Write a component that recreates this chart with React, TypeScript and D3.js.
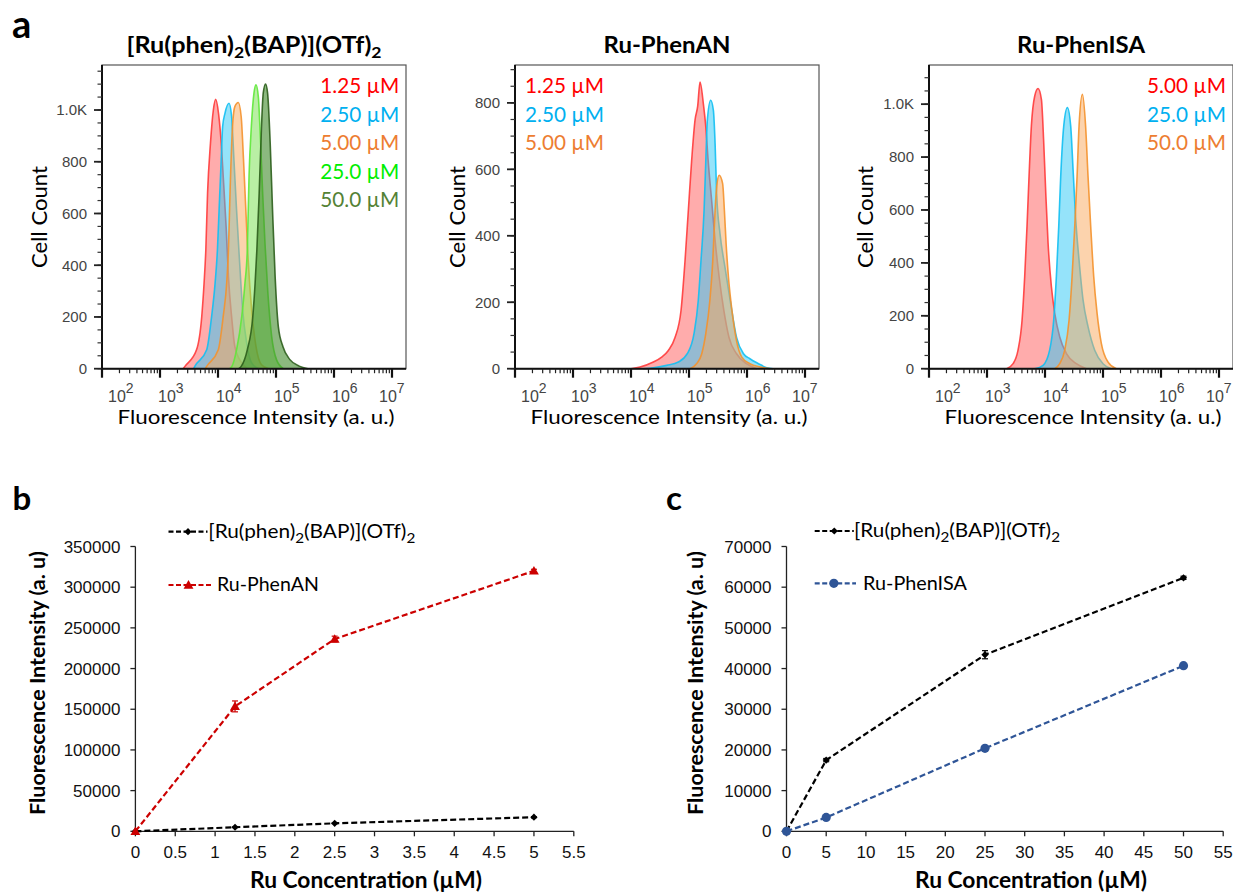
import React from "react";
import * as d3 from "d3";

const CAL = "Lato, 'Open Sans', sans-serif";
const ARI = "'Liberation Sans', Arial, sans-serif";

// ---------- panel a: flow histograms, points are [log10 intensity, cell count]
const a1Names = ["1.25 µM", "2.50 µM", "5.00 µM", "25.0 µM", "50.0 µM"];
const a2Names = ["1.25 µM", "2.50 µM", "5.00 µM"];
const a3Names = ["5.00 µM", "25.0 µM", "50.0 µM"];

const a1Red = [[3.40, 0], [3.43, 9], [3.63, 73], [3.72, 202], [3.76, 331], [3.79, 459], [3.82, 678], [3.87, 871], [3.92, 1000], [3.96, 1041], [4.01, 985], [4.06, 858], [4.09, 743], [4.14, 550], [4.18, 356], [4.24, 189], [4.29, 86], [4.41, 22], [4.50, 0]];
const a1Blue = [[3.58, 0], [3.60, 9], [3.805, 73], [3.89, 202], [3.95, 331], [3.99, 459], [4.02, 620], [4.05, 780], [4.08, 936], [4.12, 987], [4.19, 1026], [4.235, 974], [4.275, 807], [4.32, 614], [4.37, 421], [4.425, 228], [4.495, 99], [4.58, 22], [4.70, 0]];
const a1Orange = [[3.78, 0], [3.805, 9], [4.005, 73], [4.09, 202], [4.15, 331], [4.18, 459], [4.21, 700], [4.25, 936], [4.29, 1013], [4.35, 1029], [4.40, 974], [4.44, 807], [4.48, 614], [4.52, 421], [4.58, 228], [4.655, 86], [4.75, 15], [4.87, 0]];
const a1Lime = [[4.20, 0], [4.24, 9], [4.32, 73], [4.41, 202], [4.465, 331], [4.505, 459], [4.535, 743], [4.575, 936], [4.62, 1065], [4.655, 1097], [4.695, 1052], [4.735, 871], [4.77, 678], [4.81, 485], [4.86, 292], [4.925, 125], [5.01, 34], [5.125, 0]];
const a1Green = [[4.36, 0], [4.40, 9], [4.505, 73], [4.60, 202], [4.64, 331], [4.67, 459], [4.71, 678], [4.75, 936], [4.78, 1065], [4.82, 1100], [4.855, 1065], [4.90, 871], [4.94, 614], [4.985, 356], [5.04, 163], [5.12, 85], [5.24, 35], [5.40, 10], [5.55, 0]];

const a2Red = [[4.00, 0], [4.156, 5], [4.385, 20], [4.529, 35], [4.644, 55], [4.759, 94], [4.863, 176], [4.932, 326], [4.989, 477], [5.046, 627], [5.104, 748], [5.15, 790], [5.19, 863], [5.247, 798], [5.29, 727], [5.33, 627], [5.39, 507], [5.45, 386], [5.52, 276], [5.60, 176], [5.69, 94], [5.82, 45], [5.99, 15], [6.17, 0]];
const a2Blue = [[4.21, 0], [4.385, 3], [4.615, 10], [4.817, 20], [4.97, 45], [5.087, 106], [5.16, 206], [5.207, 326], [5.26, 477], [5.29, 627], [5.316, 748], [5.374, 808], [5.42, 778], [5.45, 677], [5.477, 526], [5.535, 406], [5.62, 306], [5.71, 206], [5.82, 94], [5.94, 45], [6.05, 30], [6.2, 15], [6.34, 3], [6.45, 0]];
const a2Orange = [[5.02, 0], [5.13, 15], [5.22, 45], [5.29, 106], [5.36, 206], [5.41, 326], [5.45, 477], [5.477, 547], [5.52, 582], [5.58, 557], [5.61, 477], [5.64, 376], [5.68, 276], [5.74, 176], [5.82, 84], [5.91, 35], [6.05, 15], [6.23, 5], [6.4, 0]];

const a3Red = [[3.34, 0], [3.45, 19], [3.535, 70], [3.605, 184], [3.65, 348], [3.69, 538], [3.725, 727], [3.765, 917], [3.823, 1031], [3.88, 1059], [3.938, 1018], [3.978, 854], [4.013, 664], [4.053, 474], [4.11, 310], [4.168, 209], [4.254, 120], [4.37, 57], [4.54, 19], [4.714, 0]];
const a3Blue = [[3.823, 0], [3.967, 13], [4.08, 70], [4.15, 184], [4.196, 348], [4.237, 538], [4.271, 727], [4.323, 917], [4.386, 987], [4.443, 917], [4.484, 753], [4.53, 563], [4.587, 411], [4.656, 260], [4.742, 159], [4.857, 70], [5.0, 19], [5.145, 0]];
const a3Orange = [[4.168, 0], [4.254, 19], [4.34, 70], [4.415, 184], [4.467, 348], [4.513, 538], [4.553, 727], [4.587, 917], [4.645, 1037], [4.70, 917], [4.742, 727], [4.788, 538], [4.84, 348], [4.898, 209], [4.972, 95], [5.087, 25], [5.23, 0]];

const a1Ticks = [0, 200, 400, 600, 800, 1000];
const a2Ticks = [0, 200, 400, 600, 800];
const a3Ticks = [0, 200, 400, 600, 800, 1000];
const decades = [2, 3, 4, 5, 6, 7];

// ---------- panels b and c
const bConc = [0, 1.25, 2.5, 5];
const bRuBap = [0, 5000, 9800, 17300];
const bRuBapErr = [0, 300, 400, 500];
const bPhenAN = [0, 153500, 236300, 320000];
const bPhenANErr = [0, 6700, 3500, 2000];
const bXTicks = [0, 0.5, 1, 1.5, 2, 2.5, 3, 3.5, 4, 4.5, 5, 5.5];
const bYTicks = [0, 50000, 100000, 150000, 200000, 250000, 300000, 350000];

const cConc = [0, 5, 25, 50];
const cRuBap = [0, 17500, 43400, 62300];
const cRuBapErr = [0, 400, 1000, 400];
const cPhenISA = [0, 3400, 20400, 40700];
const cPhenISAErr = [0, 200, 300, 400];
const cXTicks = [0, 5, 10, 15, 20, 25, 30, 35, 40, 45, 50, 55];
const cYTicks = [0, 10000, 20000, 30000, 40000, 50000, 60000, 70000];

const histColors = [
  { line: "#ff3b3b", fill: "#ff5a5a", op: 0.5 },
  { line: "#12bff2", fill: "#2cc8f5", op: 0.5 },
  { line: "#f4922e", fill: "#f9a85c", op: 0.5 },
  { line: "#5fe83a", fill: "#7fe25a", op: 0.55 },
  { line: "#2c5e1c", fill: "#3f8a2a", op: 0.6 },
];
const legendColors = ["#ff0000", "#00b0f0", "#ed7d31", "#00ee00", "#548235"];

const Ru = ({ sub = 14 }: any) => (
  <>
    [Ru(phen)<tspan fontSize={sub} dy={5}>2</tspan>
    <tspan dy={-5}>(BAP)](OTf)</tspan>
    <tspan fontSize={sub} dy={5}>2</tspan>
  </>
);

const HT = 65, HB = 368.7;

function Hist({ left, yMax, yTicks, curves, cols, names, legX, legAnchor, title, titleW, yLabX }: any) {
  const right = left + 304;
  const x = d3.scaleLog().domain([100, 10 ** (2 + 304 / 58)]).range([left, right]);
  const y = d3.scaleLinear().domain([0, yMax]).range([HB, HT]);
  const area = d3.area<number[]>().x(d => x(10 ** d[0])).y0(y(0)).y1(d => y(d[1])).curve(d3.curveMonotoneX);
  const line = d3.line<number[]>().x(d => x(10 ** d[0])).y(d => y(d[1])).curve(d3.curveMonotoneX);
  const minorY = d3.range(0, yMax, 50);
  const minorX: number[] = [];
  decades.forEach(e => { for (let k = 2; k <= 9; k++) { const v = k * 10 ** e; if (v <= x.domain()[1]) minorX.push(v); } });
  const cx = (left + right) / 2;
  return (
    <g>
      {curves.map((c: number[][], i: number) => (
        <g key={i}>
          <path d={area(c) || ""} fill={cols[i].fill} fillOpacity={cols[i].op} />
          <path d={line(c) || ""} fill="none" stroke={cols[i].line} strokeWidth={1.6} strokeOpacity={0.9} />
        </g>
      ))}
      <rect x={left} y={HT} width={304} height={HB - HT} fill="none" stroke="#555" strokeWidth={1.2} />
      <line x1={left} x2={left} y1={HT} y2={HB} stroke="#111" strokeWidth={2} />
      <line x1={left} x2={right} y1={HB} y2={HB} stroke="#111" strokeWidth={2} />
      {minorY.map(v => <line key={"my" + v} x1={left - 4.5} x2={left} y1={y(v)} y2={y(v)} stroke="#333" strokeWidth={1.2} />)}
      {yTicks.map((v: number) => (
        <g key={"y" + v}>
          <line x1={left - 8} x2={left} y1={y(v)} y2={y(v)} stroke="#222" strokeWidth={1.8} />
          <text x={left - 15} y={y(v) + 5.3} textAnchor="end" fontSize={15} fill="#444" fontFamily={ARI}>{v === 1000 ? "1.0K" : v}</text>
        </g>
      ))}
      {minorX.map(v => <line key={"mx" + v} x1={x(v)} x2={x(v)} y1={HB} y2={HB + 4.5} stroke="#222" strokeWidth={1.2} />)}
      {decades.map(e => {
        const t = x(10 ** e);
        const sx = Math.min(Math.max(t - 2, left + 6), right - 27);
        return (
          <g key={"d" + e}>
            <line x1={t} x2={t} y1={HB} y2={HB + 9} stroke="#111" strokeWidth={2.2} />
            <text x={sx} y={401.7} fontSize={16} fill="#444" fontFamily={ARI}>10<tspan dy={-8.4} fontSize={14}>{e}</tspan></text>
          </g>
        );
      })}
      {names.map((n: string, i: number) => (
        <text key={n} x={legX} y={93.3 + i * 28.45} textAnchor={legAnchor} fontSize={22} fill={legendColors[i]} fontFamily={CAL} textLength={79} lengthAdjust="spacingAndGlyphs">{n}</text>
      ))}
      <text x={cx} y={53} textAnchor="middle" fontSize={23} fontWeight={700} fontFamily={CAL} textLength={titleW} lengthAdjust="spacingAndGlyphs">{title}</text>
      <text x={yLabX} y={217} textAnchor="middle" fontSize={22} fontFamily={CAL} transform={`rotate(-90 ${yLabX} 217)`} textLength={102} lengthAdjust="spacingAndGlyphs">Cell Count</text>
      <text x={cx + 2} y={423.5} textAnchor="middle" fontSize={20} fontFamily={CAL} textLength={277} lengthAdjust="spacingAndGlyphs">Fluorescence Intensity (a. u.)</text>
    </g>
  );
}

const LB = 831.3, LT = 546.5;

function marker(kind: string, px: number, py: number, color: string, key: any) {
  if (kind === "circle") return <circle key={key} cx={px} cy={py} r={4.6} fill={color} />;
  if (kind === "tri") return <path key={key} d={d3.symbol(d3.symbolTriangle, 42)() || ""} transform={`translate(${px},${py + 0.8})`} fill={color} />;
  return <path key={key} d={d3.symbol(d3.symbolSquare, 26)() || ""} transform={`translate(${px},${py}) rotate(45)`} fill={color} />;
}

function LinePanel({ x0, x1, xMax, xTicks, yMax, yTicks, series, yLabX, xTitleX, legend }: any) {
  const x = d3.scaleLinear().domain([0, xMax]).range([x0, x1]);
  const y = d3.scaleLinear().domain([0, yMax]).range([LB, LT]);
  const line = d3.line<number[]>().x(d => x(d[0])).y(d => y(d[1]));
  return (
    <g>
      <line x1={x0} x2={x0} y1={LT} y2={LB} stroke="#222" strokeWidth={1.3} />
      <line x1={x0} x2={x1} y1={LB} y2={LB} stroke="#222" strokeWidth={1.3} />
      {yTicks.map((v: number) => (
        <g key={"y" + v}>
          <line x1={x0 - 5} x2={x0} y1={y(v)} y2={y(v)} stroke="#222" strokeWidth={1.3} />
          <text x={x0 - 15} y={y(v) + 6} textAnchor="end" fontSize={17} fill="#111" fontFamily={ARI}>{v}</text>
        </g>
      ))}
      {xTicks.map((v: number) => (
        <g key={"x" + v}>
          <line x1={x(v)} x2={x(v)} y1={LB} y2={LB + 5} stroke="#222" strokeWidth={1.3} />
          <text x={x(v)} y={858.3} textAnchor="middle" fontSize={17} fill="#111" fontFamily={ARI}>{v}</text>
        </g>
      ))}
      {series.map((s: any, si: number) => {
        const pts = s.xs.map((c: number, i: number) => [c, s.ys[i]]);
        return (
          <g key={si}>
            <path d={line(pts) || ""} fill="none" stroke={s.color} strokeWidth={2.2} strokeDasharray="6 3" />
            {pts.map((p: number[], i: number) => s.err[i] > 0 && (
              <g key={"e" + i} stroke={s.color} strokeWidth={1.2}>
                <line x1={x(p[0])} x2={x(p[0])} y1={y(p[1] - s.err[i])} y2={y(p[1] + s.err[i])} />
                <line x1={x(p[0]) - 3} x2={x(p[0]) + 3} y1={y(p[1] - s.err[i])} y2={y(p[1] - s.err[i])} />
                <line x1={x(p[0]) - 3} x2={x(p[0]) + 3} y1={y(p[1] + s.err[i])} y2={y(p[1] + s.err[i])} />
              </g>
            ))}
            {pts.map((p: number[], i: number) => marker(s.kind, x(p[0]), y(p[1]), s.color, "m" + i))}
          </g>
        );
      })}
      {legend.map((l: any, i: number) => (
        <g key={"l" + i}>
          <line x1={l.lx0} x2={l.lx1} y1={l.ly} y2={l.ly} stroke={l.color} strokeWidth={2.2} strokeDasharray="5 2.5" />
          {marker(l.kind, (l.lx0 + l.lx1 + (i === 0 ? 0 : -3)) / 2, l.ly, l.color, "lm")}
          <text x={l.tx} y={l.ty} fontSize={19} fontFamily={CAL} textLength={l.tw} lengthAdjust="spacingAndGlyphs">{l.label}</text>
        </g>
      ))}
      <text x={yLabX} y={683} textAnchor="middle" fontSize={20} fontWeight={700} fontFamily={CAL} transform={`rotate(-90 ${yLabX} 683)`} textLength={264} lengthAdjust="spacingAndGlyphs">Fluorescence Intensity (a. u)</text>
      <text x={xTitleX} y={888} textAnchor="middle" fontSize={22} fontWeight={700} fontFamily={CAL} textLength={232} lengthAdjust="spacingAndGlyphs">Ru Concentration (µM)</text>
    </g>
  );
}

export default function App() {
  return (
    <svg width={1233} height={893} style={{ position: "absolute", left: 0, top: 0, background: "#fff" }}>
      <rect width={1233} height={893} fill="#fff" />
      <text x={12} y={38.3} fontSize={38} fontWeight={700} fontFamily={CAL}>a</text>
      <text x={12.5} y={510} fontSize={33} fontWeight={700} fontFamily={CAL}>b</text>
      <text x={666} y={510} fontSize={33} fontWeight={700} fontFamily={CAL}>c</text>

      <Hist left={102} yMax={1174} yTicks={a1Ticks} curves={[a1Red, a1Blue, a1Orange, a1Lime, a1Green]} cols={histColors} names={a1Names}
        legX={399.3} legAnchor="end" title={<Ru sub={16} />} titleW={255} yLabX={47} />
      <Hist left={515} yMax={914} yTicks={a2Ticks} curves={[a2Red, a2Blue, a2Orange]} cols={histColors} names={a2Names}
        legX={525} legAnchor="start" title="Ru-PhenAN" titleW={127} yLabX={465} />
      <Hist left={929} yMax={1148} yTicks={a3Ticks} curves={[a3Red, a3Blue, a3Orange]} cols={histColors} names={a3Names}
        legX={1226} legAnchor="end" title="Ru-PhenISA" titleW={128} yLabX={873} />

      <LinePanel x0={135.4} x1={573.8} xMax={5.5} xTicks={bXTicks} yMax={350000} yTicks={bYTicks} yLabX={45} xTitleX={366}
        series={[
          { xs: bConc, ys: bRuBap, err: bRuBapErr, color: "#000", kind: "diamond" },
          { xs: bConc, ys: bPhenAN, err: bPhenANErr, color: "#cc0000", kind: "tri" },
        ]}
        legend={[
          { lx0: 168.5, lx1: 207.5, ly: 531.7, color: "#000", kind: "diamond", tx: 208.3, ty: 537.5, tw: 207, label: <Ru /> },
          { lx0: 168.5, lx1: 211.5, ly: 585, color: "#cc0000", kind: "tri", tx: 217, ty: 590.5, tw: 102, label: "Ru-PhenAN" },
        ]} />
      <LinePanel x0={786.5} x1={1223.2} xMax={55} xTicks={cXTicks} yMax={70000} yTicks={cYTicks} yLabX={703} xTitleX={1031}
        series={[
          { xs: cConc, ys: cRuBap, err: cRuBapErr, color: "#000", kind: "diamond" },
          { xs: cConc, ys: cPhenISA, err: cPhenISAErr, color: "#2f5597", kind: "circle" },
        ]}
        legend={[
          { lx0: 814.7, lx1: 853.8, ly: 531, color: "#000", kind: "diamond", tx: 854, ty: 537, tw: 206, label: <Ru /> },
          { lx0: 814.7, lx1: 856, ly: 583.3, color: "#2f5597", kind: "circle", tx: 863, ty: 589.5, tw: 104, label: "Ru-PhenISA" },
        ]} />
    </svg>
  );
}
